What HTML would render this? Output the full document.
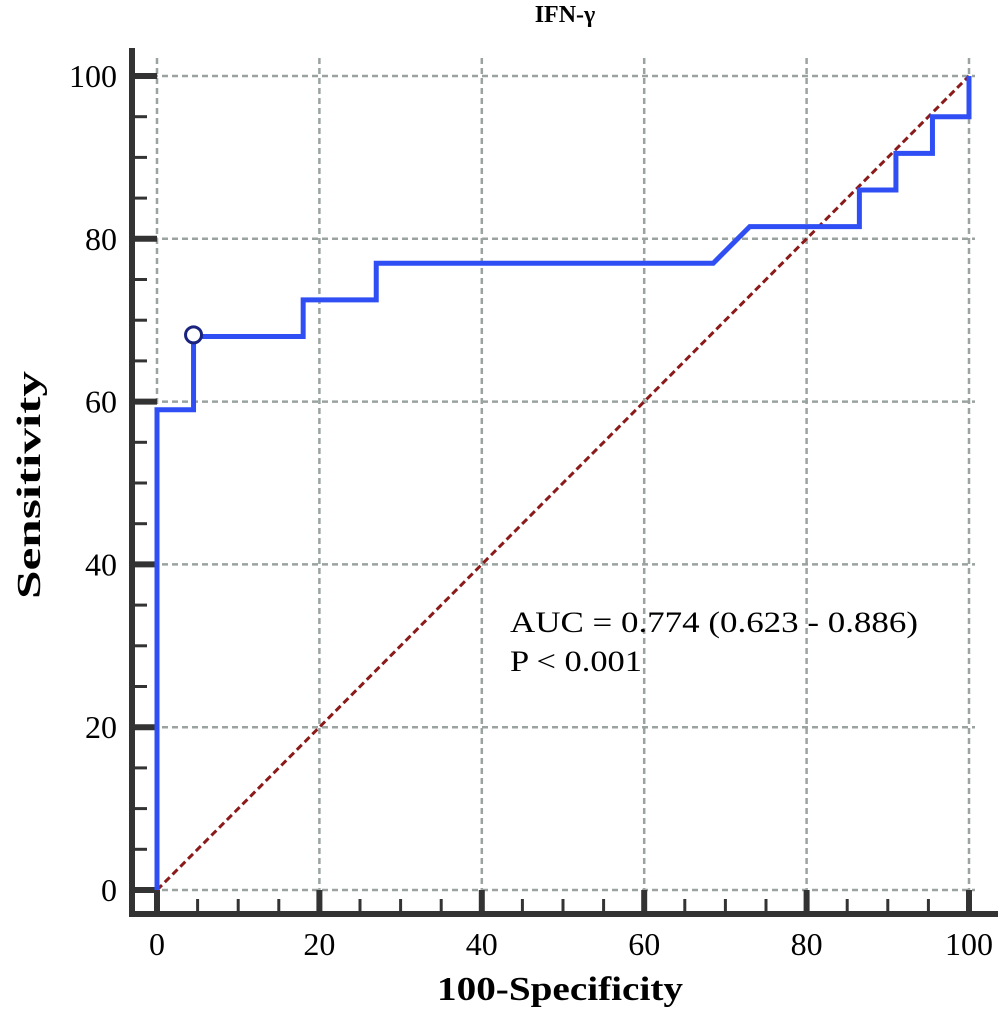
<!DOCTYPE html>
<html><head><meta charset="utf-8"><style>body{margin:0;background:#fff}svg{display:block}</style></head>
<body>
<svg id="chart" width="1000" height="1013" xmlns="http://www.w3.org/2000/svg" font-family="'Liberation Serif', serif">
<text x="565" y="22" font-size="24" font-weight="bold" text-anchor="middle">IFN-γ</text>
<text transform="translate(40,485) rotate(-90)" font-size="34" font-weight="bold" text-anchor="middle" textLength="228" lengthAdjust="spacingAndGlyphs">Sensitivity</text>
<text x="560" y="1000" font-size="34" font-weight="bold" text-anchor="middle" textLength="246" lengthAdjust="spacingAndGlyphs">100-Specificity</text>
<g id="grid"></g><g id="axes"></g><g id="series"></g>
<text x="510" y="632" font-size="30" textLength="408" lengthAdjust="spacingAndGlyphs">AUC = 0.774 (0.623 - 0.886)</text>
<text x="510" y="671" font-size="30" textLength="132" lengthAdjust="spacingAndGlyphs">P &lt; 0.001</text>
</svg>
<script>
const xTicks=[0,20,40,60,80,100];
const yTicks=[0,20,40,60,80,100];
const rocX=[0,0,4.5,4.5,18,18,27,27,68.5,73,86.5,86.5,91,91,95.5,95.5,100,100];
const rocY=[0,59,59,68,68,72.5,72.5,77,77,81.5,81.5,86,86,90.5,90.5,95,95,100];
const cutoff=[4.5,68.2];
const NS="http://www.w3.org/2000/svg";
const sx=v=>157+v*8.12, sy=v=>890-v*8.14;
function mk(t,a,p){const e=document.createElementNS(NS,t);for(const k in a)e.setAttribute(k,a[k]);p.appendChild(e);return e;}
const g=document.getElementById('grid'),ax=document.getElementById('axes'),s=document.getElementById('series');
yTicks.forEach(v=>{const l=mk('line',{x1:132,x2:975,y1:sy(v),y2:sy(v),stroke:'#9aa3a0','stroke-width':2.5,'stroke-dasharray':'6 4'},g);


const t=mk('text',{x:117,y:sy(v)+11,'font-size':32,'text-anchor':'end'},ax);t.textContent=v;

});
xTicks.forEach(v=>{const l=mk('line',{x1:sx(v),x2:sx(v),y1:58,y2:890,stroke:'#9aa3a0','stroke-width':2.5,'stroke-dasharray':'6 4'},g);


const t=mk('text',{x:sx(v),y:955,'font-size':32,'text-anchor':'middle'},ax);t.textContent=v;

});
for(let v=0;v<=100;v+=5){const maj=v%20===0;
const a=mk('line',{x1:132,x2:maj?157:147,y1:sy(v),y2:sy(v),stroke:'#333',"stroke-width":maj?6:3},ax);


const b=mk('line',{x1:sx(v),x2:sx(v),y1:914,y2:maj?890:899,stroke:'#333',"stroke-width":maj?6:3},ax);

}
const ya=mk('line',{x1:132,x2:132,y1:48,y2:917,stroke:'#333','stroke-width':6},ax);


const xa=mk('line',{x1:129,x2:998,y1:914,y2:914,stroke:'#333','stroke-width':6},ax);


const d=mk('line',{x1:sx(0),y1:sy(0),x2:sx(100),y2:sy(100),stroke:'#8b1a1a','stroke-width':3,'stroke-dasharray':'7 4'},s);


const r=mk('polyline',{points:rocX.map((x,i)=>sx(x)+','+sy(rocY[i])).join(' '),fill:'none',stroke:'#2f4ff5','stroke-width':5},s);


const c=mk('circle',{cx:sx(cutoff[0]),cy:sy(cutoff[1]),r:8,fill:'#fff',stroke:'#1a237e','stroke-width':3},s);


</script>
</body></html>
